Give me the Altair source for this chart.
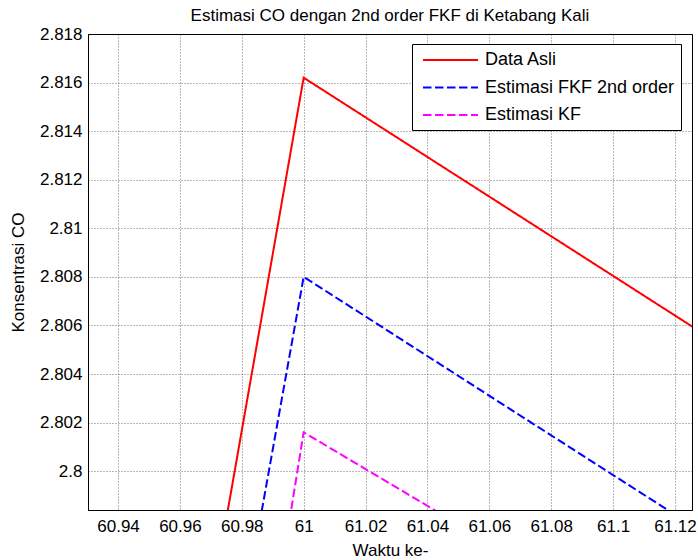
import altair as alt
import pandas as pd

waktu = [60, 61, 62]
data_asli = [2.0897, 2.8162, 2.7346]
estimasi_fkf = [2.0970, 2.8080, 2.7264]
estimasi_kf = [2.0116, 2.8016, 2.7259]

series_names = ["Data Asli", "Estimasi FKF 2nd order", "Estimasi KF"]
series_colors = ["#ff0000", "#0000ff", "#ff00ff"]
series_dash = [[1, 0], [8.5, 3.5], [8.5, 3.5]]

x_ticks = [60.94, 60.96, 60.98, 61.0, 61.02, 61.04, 61.06, 61.08, 61.1, 61.12]
y_ticks = [2.8, 2.802, 2.804, 2.806, 2.808, 2.81, 2.812, 2.814, 2.816, 2.818]
x_domain = [60.9303, 61.1255]
y_domain = [2.7984, 2.818]

rows = []
for name, vals in zip(series_names, [data_asli, estimasi_fkf, estimasi_kf]):
    for t, v in zip(waktu, vals):
        rows.append({"Waktu": t, "Nilai": v, "Seri": name})
df = pd.DataFrame(rows)

font = "Liberation Sans"
legend_kw = dict(title=None, orient="none", legendX=324, legendY=10)

chart = alt.Chart(df).mark_line(clip=True, strokeWidth=2).encode(
    x=alt.X("Waktu:Q",
            scale=alt.Scale(domain=x_domain, nice=False, zero=False),
            axis=alt.Axis(title="Waktu ke-", values=x_ticks, format="~g")),
    y=alt.Y("Nilai:Q",
            scale=alt.Scale(domain=y_domain, nice=False, zero=False),
            axis=alt.Axis(title="Konsentrasi CO", values=y_ticks, format="~g")),
    color=alt.Color("Seri:N",
                    scale=alt.Scale(domain=series_names, range=series_colors),
                    legend=alt.Legend(**legend_kw)),
    strokeDash=alt.StrokeDash("Seri:N",
                              scale=alt.Scale(domain=series_names, range=series_dash),
                              legend=alt.Legend(**legend_kw)),
    order=alt.Order("Waktu:Q"),
).properties(
    width=604,
    height=476,
    title=alt.TitleParams("Estimasi CO dengan 2nd order FKF di Ketabang Kali",
                          font=font, fontSize=17, fontWeight="normal", color="black",
                          anchor="middle", offset=0),
    autosize=alt.AutoSizeParams(type="none"),
    padding={"left": 88, "top": 34, "right": 6, "bottom": 50},
).configure_view(
    stroke="black", strokeWidth=1
).configure_axis(
    labelFont=font, labelFontSize=17, labelColor="black",
    titleFont=font, titleFontSize=17, titleFontWeight="normal", titleColor="black",
    domainColor="black", ticks=False, tickSize=0,
    grid=True, gridColor="black", gridDash=[1, 2], gridOpacity=0.55, gridWidth=1,
).configure_axisX(
    labelPadding=8, titlePadding=8
).configure_axisY(
    labelPadding=6, titlePadding=12
).configure_legend(
    labelFont=font, labelFontSize=18, labelColor="black", labelLimit=400,
    symbolType="M-0.556,0H5.556", symbolSize=324, symbolStrokeWidth=2,
    strokeColor="black", fillColor="white", padding=6, cornerRadius=0,
    rowPadding=8.5, labelOffset=47,
)

chart.save("out.html", embed_options={"renderer": "svg", "actions": False})
